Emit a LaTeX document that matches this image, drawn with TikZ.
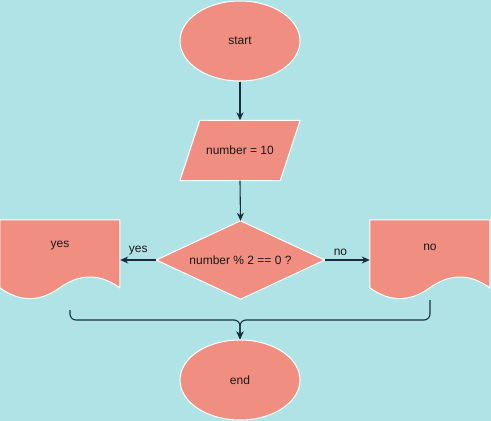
\documentclass[tikz,border=0pt]{standalone}
\usepackage{fontspec}
\setmainfont{Liberation Sans}
\usetikzlibrary{shapes.geometric,arrows.meta,calc}
\definecolor{bgc}{HTML}{B0E3E6}
\definecolor{boxfill}{HTML}{F08E81}
\definecolor{linec}{HTML}{182E3E}
\definecolor{txtc}{HTML}{1A1A1A}
\pgfdeclarelayer{bg}
\pgfsetlayers{bg,main}
\tikzset{
  every node/.style={font=\fontsize{12}{14}\selectfont, text=txtc},
  term/.style={ellipse, fill=boxfill, draw=white, line width=1pt, minimum width=120pt, minimum height=80pt, inner sep=0pt},
  area/.style={rectangle, inner sep=0pt},
  shapefill/.style={fill=boxfill, draw=white, line width=1pt, line join=miter},
  flow/.style={draw=linec, line width=1.1pt, -{Stealth[length=8pt,width=7pt,inset=2.5pt]}},
  wire/.style={draw=linec, line width=1.1pt}
}
\begin{document}
\begin{tikzpicture}[x=1pt,y=-1pt]
\begin{pgfonlayer}{bg}
  \fill[bgc] (0,0) rectangle (491,421);
\end{pgfonlayer}
\useasboundingbox (0,0) rectangle (491,421);

% nodes
\node[term] (start) at (240,41) {start};
\node[area, minimum width=120pt, minimum height=60pt] (input) at (240,150.5) {number = 10};
\node[area, minimum width=168pt, minimum height=78pt] (test) at (240.5,260) {number \% 2 == 0 ?};
\node[area, minimum width=120pt, minimum height=80pt, label={[yshift=-34pt]north:yes}] (yesdoc) at (60,260) {};
\node[area, minimum width=120pt, minimum height=80pt, label={[yshift=-34pt]north:no}] (nodoc) at (430,260) {};
\node[term] (end) at (240,380) {end};

% shape outlines behind the text
\begin{pgfonlayer}{bg}
  \path[shapefill] ([xshift=20pt]input.north west) -- (input.north east)
     -- ([xshift=-20pt]input.south east) -- (input.south west) -- cycle;
  \path[shapefill] (test.north) -- (test.east) -- (test.south) -- (test.west) -- cycle;
  \begin{scope}[shift={(yesdoc.north west)}]
    \path[shapefill] (0,0) -- (120,0) -- (120,68)
      .. controls (100,53.6) and (80,53.6) .. (60,68)
      .. controls (40,82.4) and (20,82.4) .. (0,68) -- cycle;
  \end{scope}
  \begin{scope}[shift={(nodoc.north west)}]
    \path[shapefill] (0,0) -- (120,0) -- (120,68)
      .. controls (100,53.6) and (80,53.6) .. (60,68)
      .. controls (40,82.4) and (20,82.4) .. (0,68) -- cycle;
  \end{scope}
\end{pgfonlayer}

% connectors
\draw[flow] (start.south) -- (input.north);
\draw[flow] (input.south) -- (test.north);
\draw[flow] (test.west) -- node[above=1pt] {yes} (yesdoc.east);
\draw[flow] (test.east) -- node[above=1pt, pos=0.35] {no} (nodoc.west);

\coordinate (yout) at ([xshift=10pt,yshift=-10pt]yesdoc.south);
\coordinate (nout) at (nodoc.south);
\coordinate (join) at (240,320);
\draw[flow, rounded corners=6pt] (yout) |- (join) -- (end.north);
\draw[flow, rounded corners=6pt] (nout) |- (join) -- (end.north);
\end{tikzpicture}
\end{document}
